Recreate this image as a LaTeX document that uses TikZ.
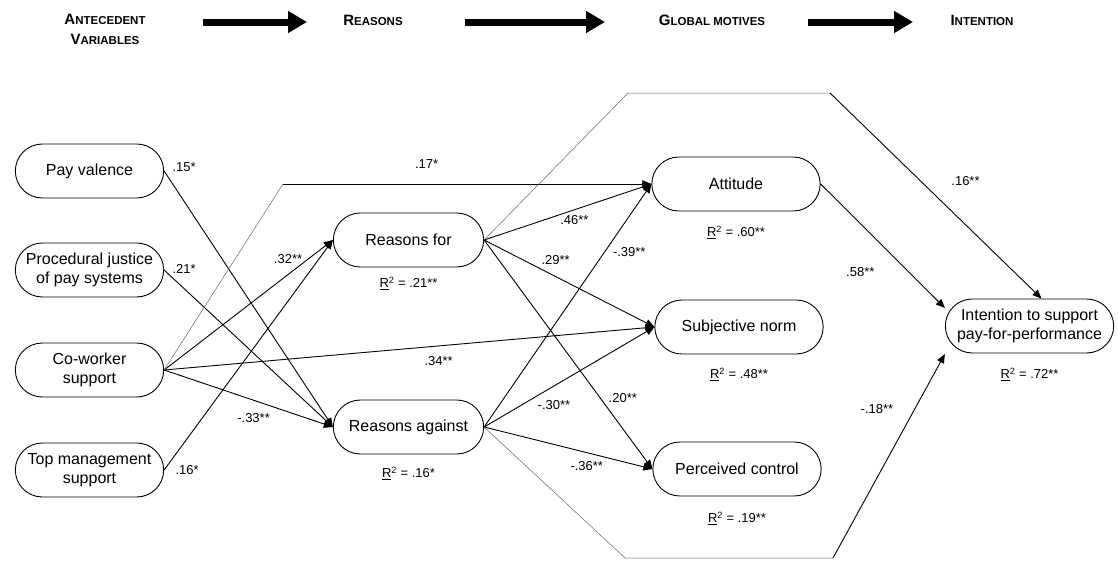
\documentclass[tikz,border=0pt]{standalone}
\usepackage{fontspec}
\setmainfont{Liberation Sans}
\usetikzlibrary{positioning, shapes.misc, arrows.meta}

\newcommand{\hcap}[2]{{\fontsize{15}{19.5}\selectfont #1}{\fontsize{11.5}{19.5}\selectfont #2}}

\begin{document}
\begin{tikzpicture}[x=1pt, y=-1pt,
    main/.style = {draw, line width=0.9pt, rounded rectangle, minimum width=155pt, minimum height=54pt, align=center, font=\fontsize{16}{19}\selectfont},
    wide/.style = {main, minimum width=175pt},
    link/.style = {line width=0.9pt, -{Triangle[length=9pt,width=7.5pt]}},
    faint/.style = {line width=0.5pt, black!60},
    coef/.style = {font=\fontsize{13}{15}\selectfont, inner sep=1pt},
    head/.style = {font=\fontsize{15}{19.5}\selectfont\bfseries, align=center},
    block/.style = {line width=7pt, -{Triangle[length=19pt,width=21pt]}}]
  \useasboundingbox (0,0) rectangle (1118,571);

  % stages
  \node[head] (h1) at (105,29.5) {\hcap{A}{NTECEDENT}\\\hcap{V}{ARIABLES}};
  \node[head] (h2) at (373,20) {\hcap{R}{EASONS}};
  \node[head] (h3) at (712,20) {\hcap{G}{LOBAL MOTIVES}};
  \node[head] (h4) at (982,20) {\hcap{I}{NTENTION}};
  \coordinate (a1) at (203,22); \coordinate (b1) at (307,22);
  \coordinate (a2) at (465,22); \coordinate (b2) at (605,22);
  \coordinate (a3) at (808,22); \coordinate (b3) at (913,22);
  \draw[block] (a1) -- (b1);
  \draw[block] (a2) -- (b2);
  \draw[block] (a3) -- (b3);

  % variables
  \node[main] (1) at (89.5,171) {Pay valence};
  \node[main] (2) at (89.5,270) {Procedural justice\\of pay systems};
  \node[main] (3) at (89.5,370) {Co-worker\\support};
  \node[main] (4) at (89.5,470) {Top management\\support};
  \node[main, minimum width=157pt] (5) at (408.5,240) {Reasons for};
  \node[main, minimum width=157pt] (6) at (408.5,427) {Reasons against};
  \node[wide] (7) at (736,184) {Attitude};
  \node[wide] (8) at (739,327) {Subjective norm};
  \node[wide] (9) at (737,469) {Perceived control};
  \node[wide] (10) at (1029.5,326) {Intention to support\\pay-for-performance};

  \node[coef] (r5) [below=8pt of 5] {\underline{R}\textsuperscript{2} = .21**};
  \node[coef] (r6) [below=11pt of 6] {\underline{R}\textsuperscript{2} = .16*};
  \node[coef] (r7) [below=13pt of 7] {\underline{R}\textsuperscript{2} = .60**};
  \node[coef] (r8) [below=12.5pt of 8] {\underline{R}\textsuperscript{2} = .48**};
  \node[coef] (r9) [below=14pt of 9] {\underline{R}\textsuperscript{2} = .19**};
  \node[coef] (r10) [below=13pt of 10] {\underline{R}\textsuperscript{2} = .72**};

  \coordinate (k1) at (283,184);
  \coordinate (u1) at (628,93); \coordinate (u2) at (830,93);
  \coordinate (d1) at (625,558); \coordinate (d2) at (833,558);

  \draw[link] (1.east) -- node[coef, pos=0, right=7pt, yshift=4pt] {.15*} (6.west);
  \draw[link] (2.east) -- node[coef, pos=0, right=7pt, yshift=1pt] {.21*} (6.west);
  \draw[link] (3.east) -- node[coef, pos=0.85, left=4pt] {.32**} (5.west);
  \draw[link] (3.east) -- node[coef, pos=0.53, below=12pt] {-.33**} (6.west);
  \draw[link] (3.east) -- node[coef, pos=0.56, below=9pt] {.34**} (8.west);
  \draw[faint] (3.east) -- (k1);
  \draw[link] (k1) -- node[coef, pos=0.39, above=14pt] {.17*} (7.west);
  \draw[link] (4.east) -- node[coef, pos=0, right=10pt] {.16*} (5.west);

  \draw[link] (5.east) -- node[coef, pos=0.54, below=4pt] {.46**} (7.west);
  \draw[link] (5.east) -- node[coef, pos=0.42, above=10pt] {.29**} (8.west);
  \draw[link] (5.east) -- node[coef, pos=0.69, right=7pt] {.20**} (9.west);
  \draw[faint] (5.east) -- (u1) -- (u2);
  \draw[link] (u2) -- node[coef, pos=0.43, right=29pt] {.16**} ([xshift=12pt]10.north);

  \draw[link] (6.east) -- node[coef, pos=0.72, right=7pt] {-.39**} (7.west);
  \draw[link] (6.east) -- node[coef, pos=0.41, below=13pt] {-.30**} (8.west);
  \draw[link] (6.east) -- node[coef, pos=0.61, below=7pt] {-.36**} (9.west);
  \draw[faint] (6.east) -- (d1) -- (d2);
  \draw[link] (d2) -- node[coef, pos=0.73, left=20pt] {-.18**} ([yshift=-28pt]10.west);

  \draw[link] (7.east) -- node[coef, pos=0.71, left=33pt] {.58**} ([yshift=18pt]10.west);
\end{tikzpicture}
\end{document}
